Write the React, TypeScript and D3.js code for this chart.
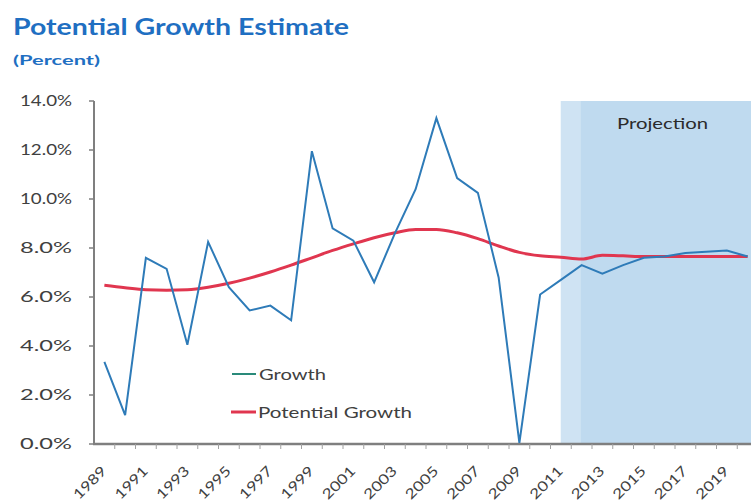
import React from "react";
import * as d3 from "d3";

const years: number[] = [
  1989, 1990, 1991, 1992, 1993, 1994, 1995, 1996, 1997, 1998, 1999, 2000, 2001, 2002, 2003, 2004,
  2005, 2006, 2007, 2008, 2009, 2010, 2011, 2012, 2013, 2014, 2015, 2016, 2017, 2018, 2019, 2020,
];
const growth: number[] = [
  3.35, 1.18, 7.6, 7.15, 4.05, 8.25, 6.4, 5.45, 5.65, 5.05, 11.95, 8.8, 8.3, 6.6, 8.6, 10.4,
  13.3, 10.85, 10.25, 6.8, 0.05, 6.1, 6.7, 7.3, 6.95, 7.3, 7.6, 7.65, 7.8, 7.85, 7.9, 7.65,
];
const potential: number[] = [
  6.48, 6.38, 6.3, 6.28, 6.3, 6.4, 6.56, 6.77, 7.02, 7.3, 7.6, 7.9, 8.17, 8.42, 8.62, 8.76,
  8.76, 8.62, 8.38, 8.08, 7.82, 7.68, 7.62, 7.55, 7.7, 7.68, 7.65, 7.65, 7.65, 7.65, 7.65, 7.65,
];
const yTicks: number[] = [0, 2, 4, 6, 8, 10, 12, 14];
const labelYears: number[] = [1989, 1991, 1993, 1995, 1997, 1999, 2001, 2003, 2005, 2007, 2009, 2011, 2013, 2015, 2017, 2019];
const projectionStart = 2011;
const seriesNames: string[] = ["Growth", "Potential Growth"];

const W = 751;
const H = 504;
const plotLeft = 94;
const bandW = 20.75;

export default function App() {
  const x = d3
    .scaleBand<number>()
    .domain(years)
    .range([plotLeft, plotLeft + bandW * years.length])
    .paddingInner(0)
    .paddingOuter(0);
  const y = d3.scaleLinear().domain([0, 14]).range([444, 101]);
  const cx = (yr: number) => (x(yr) as number) + x.bandwidth() / 2;

  const line = d3
    .line<number>()
    .x((_, i) => cx(years[i]))
    .y((v) => y(v));
  const smooth = d3
    .line<number>()
    .x((_, i) => cx(years[i]))
    .y((v) => y(v))
    .curve(d3.curveMonotoneX);

  const fontFam = "Lato, 'Open Sans', sans-serif";
  const blue = "#2e7bb8";
  const red = "#e0364f";
  const shadeX = cx(projectionStart);

  return (
    <svg
      width={W}
      height={H}
      style={{ position: "absolute", left: 0, top: 0, background: "#fff" }}
      fontFamily={fontFam}
    >
      {/* Title */}
      <text x={13} y={35} fontSize={23} fontWeight={700} fill="#1f6fc2" textLength={336} lengthAdjust="spacingAndGlyphs">
        Potential Growth Estimate
      </text>
      <text x={13} y={65} fontSize={14} fontWeight={700} fill="#1f6fc2" textLength={87} lengthAdjust="spacingAndGlyphs">
        (Percent)
      </text>

      {/* Projection shading */}
      <rect x={shadeX} y={y(14)} width={W - shadeX} height={y(0) - y(14)} fill="#bfdaef" />
      <rect x={shadeX} y={y(14)} width={20} height={y(0) - y(14)} fill="#cfe3f3" />
      <text x={617} y={129} fontSize={16} fill="#2b2b2b" textLength={91} lengthAdjust="spacingAndGlyphs">
        Projection
      </text>

      {/* Y axis */}
      <line x1={plotLeft} x2={plotLeft} y1={y(14)} y2={y(0)} stroke="#7f7f7f" strokeWidth={2} />
      {yTicks.map((t) => (
        <g key={t}>
          <line x1={plotLeft - 5} x2={plotLeft} y1={y(t)} y2={y(t)} stroke="#7f7f7f" strokeWidth={1.5} />
          <text
            x={72}
            y={y(t)}
            dy="0.36em"
            fontSize={15}
            fill="#404040"
            textAnchor="end"
            textLength={52}
            lengthAdjust="spacingAndGlyphs"
          >
            {t.toFixed(1)}%
          </text>
        </g>
      ))}

      {/* X axis */}
      <line x1={plotLeft - 1} x2={W} y1={y(0)} y2={y(0)} stroke="#7f7f7f" strokeWidth={2.5} />
      {years.map((yr) => (
        <line
          key={yr}
          x1={(x(yr) as number) + bandW}
          x2={(x(yr) as number) + bandW}
          y1={y(0)}
          y2={y(0) + 5}
          stroke="#a0a0a0"
          strokeWidth={1}
        />
      ))}
      {labelYears.map((yr) => (
        <text
          key={yr}
          transform={`translate(${cx(yr) + 3},${y(0) + 28}) rotate(-45)`}
          fontSize={14}
          fill="#404040"
          textAnchor="end"
          textLength={40}
          lengthAdjust="spacingAndGlyphs"
        >
          {yr}
        </text>
      ))}

      {/* Lines */}
      <path d={smooth(potential) || ""} fill="none" stroke={red} strokeWidth={3} />
      <path d={line(growth) || ""} fill="none" stroke={blue} strokeWidth={2} />

      {/* Legend */}
      <line x1={232} x2={256} y1={374} y2={374} stroke="#2a8a7a" strokeWidth={2} />
      <text x={259} y={374} dy="0.36em" fontSize={16} fill="#404040" textLength={67} lengthAdjust="spacingAndGlyphs">
        {seriesNames[0]}
      </text>
      <line x1={231} x2={256} y1={412} y2={412} stroke={red} strokeWidth={3} />
      <text x={258} y={412} dy="0.36em" fontSize={16} fill="#404040" textLength={154} lengthAdjust="spacingAndGlyphs">
        {seriesNames[1]}
      </text>
    </svg>
  );
}
